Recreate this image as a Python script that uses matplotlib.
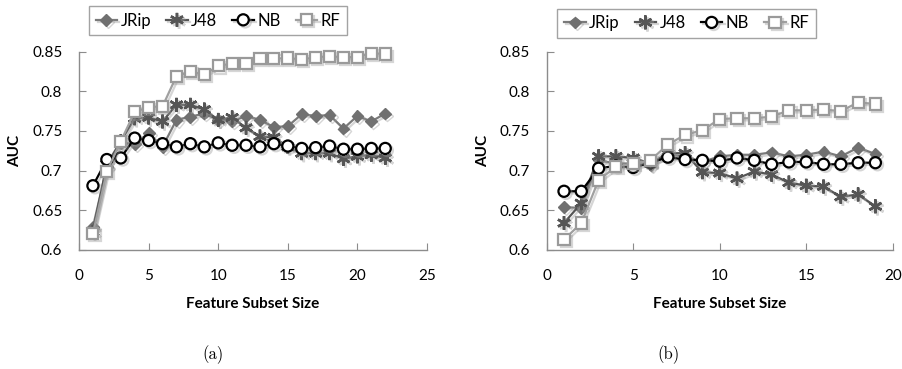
import matplotlib
matplotlib.use('agg')
import matplotlib.pyplot as plt
import matplotlib.patheffects as pe

# panel (a)
x_a = list(range(1, 23))
jrip_a = [0.629, 0.705, 0.735, 0.734, 0.747, 0.730, 0.764, 0.768, 0.772, 0.764, 0.762,
          0.769, 0.764, 0.755, 0.756, 0.771, 0.769, 0.770, 0.753, 0.769, 0.762, 0.772]
j48_a = [0.623, 0.708, 0.737, 0.766, 0.767, 0.762, 0.783, 0.783, 0.777, 0.764, 0.767,
         0.754, 0.743, 0.742, 0.730, 0.722, 0.722, 0.722, 0.715, 0.718, 0.720, 0.716]
nb_a = [0.681, 0.714, 0.716, 0.741, 0.738, 0.734, 0.730, 0.734, 0.730, 0.735, 0.732,
        0.732, 0.730, 0.734, 0.731, 0.728, 0.729, 0.731, 0.727, 0.727, 0.728, 0.728]
rf_a = [0.621, 0.699, 0.737, 0.774, 0.780, 0.781, 0.819, 0.825, 0.821, 0.832, 0.835,
        0.835, 0.841, 0.841, 0.842, 0.840, 0.843, 0.844, 0.843, 0.843, 0.848, 0.847]

# panel (b)
x_b = list(range(1, 20))
jrip_b = [0.654, 0.653, 0.713, 0.709, 0.709, 0.707, 0.720, 0.718, 0.711, 0.718, 0.720,
          0.720, 0.723, 0.718, 0.720, 0.724, 0.718, 0.729, 0.721]
j48_b = [0.634, 0.659, 0.718, 0.718, 0.716, 0.709, 0.722, 0.722, 0.698, 0.697, 0.690,
         0.699, 0.695, 0.685, 0.681, 0.680, 0.667, 0.670, 0.655]
nb_b = [0.674, 0.674, 0.703, 0.706, 0.704, 0.710, 0.717, 0.714, 0.713, 0.712, 0.716,
        0.713, 0.708, 0.711, 0.711, 0.708, 0.708, 0.710, 0.710]
rf_b = [0.613, 0.634, 0.688, 0.705, 0.709, 0.713, 0.733, 0.745, 0.751, 0.765, 0.766,
        0.766, 0.768, 0.776, 0.776, 0.777, 0.775, 0.786, 0.784]

labels = ['JRip', 'J48', 'NB', 'RF']
yticks = [0.6, 0.65, 0.7, 0.75, 0.8, 0.85]
ytick_labels = ['0.6', '0.65', '0.7', '0.75', '0.8', '0.85']

styles = [
    dict(color='#7a7a7a', marker='D', markersize=6, markerfacecolor='#707070',
         markeredgecolor='#707070', lw=1.6),
    dict(color='#555555', marker=(6, 2, 0), markersize=10, markeredgewidth=1.8,
         markeredgecolor='#555555', lw=1.6),
    dict(color='black', marker='o', markersize=8, markerfacecolor='white',
         markeredgecolor='black', markeredgewidth=1.6, lw=1.6),
    dict(color='#a0a0a0', marker='s', markersize=8, markerfacecolor='white',
         markeredgecolor='#9a9a9a', markeredgewidth=1.6, lw=1.6),
]

TICK_FONT = 'Lato'

fig = plt.figure(figsize=(9.02, 3.69), dpi=100)
ax_a = fig.add_axes([0.0876, 0.3225, 0.3858, 0.5376])
ax_b = fig.add_axes([0.6061, 0.3225, 0.3836, 0.5376])


def draw(ax, xs, series, xmax, xticks, legend_xy):
    handles = []
    for ys, st, lab in zip(series, styles, labels):
        h, = ax.plot(xs, ys, label=lab, clip_on=False, **st)
        h.set_path_effects([pe.SimpleLineShadow(offset=(1.5, -1.5), shadow_color='#999999', alpha=0.4), pe.Normal()])
        handles.append(h)
    ax.set_xlim(0, xmax)
    ax.set_ylim(0.6, 0.85)
    ax.set_yticks(yticks)
    ax.set_yticklabels(ytick_labels)
    ax.set_xticks(xticks)
    for s in ['top', 'right']:
        ax.spines[s].set_visible(False)
    for s in ['left', 'bottom']:
        ax.spines[s].set_color('#8c8c8c')
        ax.spines[s].set_linewidth(1.0)
    ax.tick_params(colors='#8c8c8c', labelcolor='black', direction='in', length=5, labelsize=11)
    ax.tick_params(axis='x', pad=14)
    ax.tick_params(axis='y', pad=12)
    for t in ax.get_xticklabels() + ax.get_yticklabels():
        t.set_fontfamily(TICK_FONT)
    ax.set_ylabel('AUC', fontsize=11, fontweight='bold', fontfamily=TICK_FONT, labelpad=7)
    ax.set_xlabel('Feature Subset Size', fontsize=11, fontweight='bold', fontfamily=TICK_FONT, labelpad=10)
    leg = fig.legend(handles=handles, ncol=4, loc='center', bbox_to_anchor=legend_xy,
                     frameon=True, fancybox=False, handlelength=1.3, handletextpad=0.2,
                     columnspacing=0.9, borderpad=0.4, prop={'family': TICK_FONT, 'size': 12})
    leg.get_frame().set_edgecolor('#8c8c8c')
    leg.get_frame().set_linewidth(1.0)


draw(ax_a, x_a, [jrip_a, j48_a, nb_a, rf_a], 25, [0, 5, 10, 15, 20, 25], (0.2417, 0.944))
draw(ax_b, x_b, [jrip_b, j48_b, nb_b, rf_b], 20, [0, 5, 10, 15, 20], (0.761, 0.937))

fig.text(0.236, 0.04, '(a)', ha='center', va='center', fontsize=12, fontfamily='cmr10')
fig.text(0.741, 0.04, '(b)', ha='center', va='center', fontsize=12, fontfamily='cmr10')

fig.savefig('out.png', dpi=100)
